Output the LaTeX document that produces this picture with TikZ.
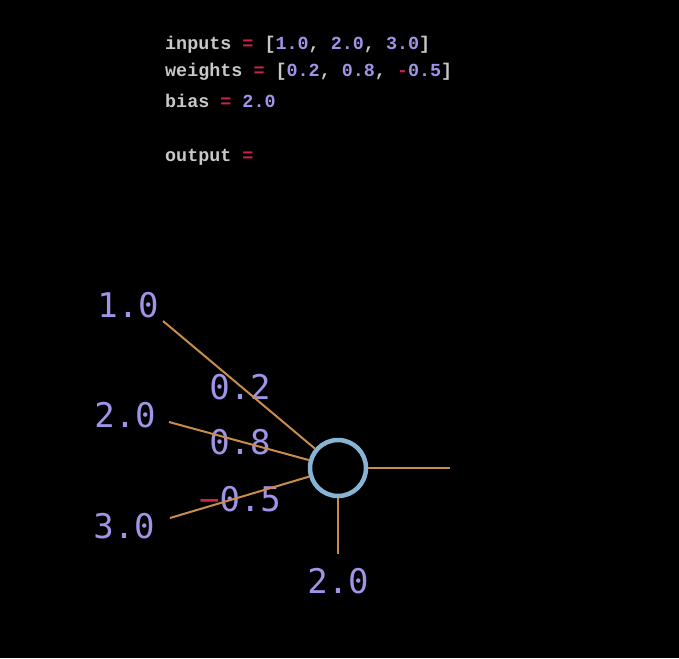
\documentclass[tikz,border=0pt]{standalone}
\usepackage{fontspec}
\newfontfamily\codefont{Liberation Mono}
\newfontfamily\labfont{DejaVu Sans Mono}
\definecolor{lav}{RGB}{160,148,230}
\definecolor{codegrey}{RGB}{200,200,200}
\definecolor{eqred}{RGB}{205,35,75}
\definecolor{wire}{RGB}{200,140,75}
\definecolor{ring}{RGB}{135,180,212}
\begin{document}
\begin{tikzpicture}[x=1pt,y=-1pt,
  code/.style={anchor=west,inner sep=0pt,font=\codefont\bfseries\fontsize{18.4}{20}\selectfont,text=codegrey},
  lab/.style={inner sep=0pt,font=\labfont\fontsize{34}{36}\selectfont,text=lav},
  wireline/.style={draw=wire,line width=2pt},
  neuron/.style={circle,draw=ring,line width=4.5pt,minimum size=56pt,inner sep=0pt}]
\fill[black] (0,0) rectangle (679,658);
\useasboundingbox (0,0) rectangle (679,658);
% code
\newcommand{\R}[1]{\textcolor{eqred}{#1}}
\newcommand{\N}[1]{\textcolor{lav}{#1}}
\node[code] (l1) at (165,45) {inputs \R{=} [\N{1.0}, \N{2.0}, \N{3.0}]};
\node[code] (l2) at (165,72) {weights \R{=} [\N{0.2}, \N{0.8}, \R{-}\N{0.5}]};
\node[code] (l3) at (165,101) {bias \R{=} \N{2.0}};
\node[code] (l4) at (165,157) {output \R{=}};
% neuron
\node[neuron] (n) at (338,468) {};
\node[lab] (i1) at (128,305) {1.0};
\node[lab] (i2) at (125,415) {2.0};
\node[lab] (i3) at (124,526) {3.0};
\node[lab] (b) at (338,581) {2.0};
\node[lab] (w1) at (240,387) {0.2};
\node[lab] (w2) at (240,442) {0.8};
\node[lab] (w3) at (240,499) {\textcolor{eqred}{−}0.5};
\coordinate (s1) at (163,321);
\coordinate (s2) at (169,422);
\coordinate (s3) at (170,518);
\coordinate (so) at (450,468);
\coordinate (sb) at (338,554);
\draw[wireline] (s1) -- (n);
\draw[wireline] (s2) -- (n);
\draw[wireline] (s3) -- (n);
\draw[wireline] (n) -- (so);
\draw[wireline] (n) -- (sb);
\end{tikzpicture}
\end{document}
